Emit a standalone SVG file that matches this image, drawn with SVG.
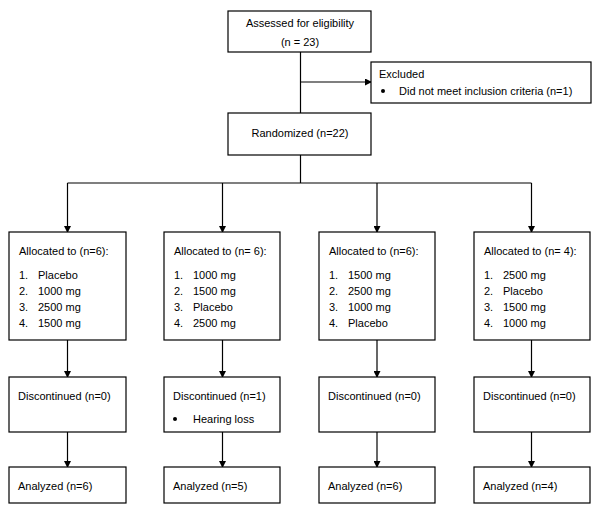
<svg xmlns="http://www.w3.org/2000/svg" width="600" height="513" viewBox="0 0 600 513">
<defs>
<style>
.box{fill:#fff;stroke:#000;stroke-width:1.2}
.t{font-family:"Liberation Sans",Arial,sans-serif;font-size:11px;fill:#000}
.c{text-anchor:middle}
.ln{fill:none;stroke:#000;stroke-width:1.2}
</style>
<marker id="ah" markerWidth="7" markerHeight="7" refX="6" refY="3.5" orient="auto" markerUnits="userSpaceOnUse">
<path d="M0,0 L7,3.5 L0,7 Z" fill="#000"/>
</marker>
</defs>
<rect width="600" height="513" fill="#fff"/>
<g id="connectors">
<line class="ln" x1="300.5" y1="52" x2="300.5" y2="113"/>
<line class="ln" x1="300.5" y1="82" x2="371" y2="82" marker-end="url(#ah)"/>
<line class="ln" x1="300.5" y1="155" x2="300.5" y2="183"/>
<line class="ln" x1="67.5" y1="183" x2="531.5" y2="183"/>
<line class="ln" x1="67.5" y1="183" x2="67.5" y2="232" marker-end="url(#ah)"/>
<line class="ln" x1="222.5" y1="183" x2="222.5" y2="232" marker-end="url(#ah)"/>
<line class="ln" x1="377" y1="183" x2="377" y2="232" marker-end="url(#ah)"/>
<line class="ln" x1="531.5" y1="183" x2="531.5" y2="232" marker-end="url(#ah)"/>
<line class="ln" x1="67.5" y1="340" x2="67.5" y2="377" marker-end="url(#ah)"/>
<line class="ln" x1="222.5" y1="340" x2="222.5" y2="377" marker-end="url(#ah)"/>
<line class="ln" x1="377" y1="340" x2="377" y2="377" marker-end="url(#ah)"/>
<line class="ln" x1="531.5" y1="340" x2="531.5" y2="377" marker-end="url(#ah)"/>
<line class="ln" x1="67.5" y1="432" x2="67.5" y2="467" marker-end="url(#ah)"/>
<line class="ln" x1="222.5" y1="432" x2="222.5" y2="467" marker-end="url(#ah)"/>
<line class="ln" x1="377" y1="432" x2="377" y2="467" marker-end="url(#ah)"/>
<line class="ln" x1="531.5" y1="432" x2="531.5" y2="467" marker-end="url(#ah)"/>
</g>
<g id="assessed">
<rect class="box" x="228" y="11" width="143" height="41"/>
<text class="t c" x="300" y="27">Assessed for eligibility</text>
<text class="t c" x="300" y="46">(n = 23)</text>
</g>
<g id="excluded">
<rect class="box" x="371" y="62" width="220" height="41"/>
<text class="t" x="379" y="78">Excluded</text>
<circle cx="383" cy="91" r="2"/>
<text class="t" x="399" y="95">Did not meet inclusion criteria (n=1)</text>
</g>
<g id="randomized">
<rect class="box" x="228" y="113" width="143" height="42"/>
<text class="t c" x="300" y="137">Randomized (n=22)</text>
</g>
<g id="alloc1">
<rect class="box" x="9" y="232" width="117" height="108"/>
<text class="t" x="19" y="255">Allocated to (n=6):</text>
<text class="t" x="19" y="279">1.</text><text class="t" x="38" y="279">Placebo</text>
<text class="t" x="19" y="295">2.</text><text class="t" x="38" y="295">1000 mg</text>
<text class="t" x="19" y="311">3.</text><text class="t" x="38" y="311">2500 mg</text>
<text class="t" x="19" y="327">4.</text><text class="t" x="38" y="327">1500 mg</text>
</g>
<g id="alloc2">
<rect class="box" x="164" y="232" width="116" height="108"/>
<text class="t" x="174" y="255">Allocated to (n= 6):</text>
<text class="t" x="174" y="279">1.</text><text class="t" x="193" y="279">1000 mg</text>
<text class="t" x="174" y="295">2.</text><text class="t" x="193" y="295">1500 mg</text>
<text class="t" x="174" y="311">3.</text><text class="t" x="193" y="311">Placebo</text>
<text class="t" x="174" y="327">4.</text><text class="t" x="193" y="327">2500 mg</text>
</g>
<g id="alloc3">
<rect class="box" x="319" y="232" width="116" height="108"/>
<text class="t" x="329" y="255">Allocated to (n=6):</text>
<text class="t" x="329" y="279">1.</text><text class="t" x="348" y="279">1500 mg</text>
<text class="t" x="329" y="295">2.</text><text class="t" x="348" y="295">2500 mg</text>
<text class="t" x="329" y="311">3.</text><text class="t" x="348" y="311">1000 mg</text>
<text class="t" x="329" y="327">4.</text><text class="t" x="348" y="327">Placebo</text>
</g>
<g id="alloc4">
<rect class="box" x="474" y="232" width="116" height="108"/>
<text class="t" x="484" y="255">Allocated to (n= 4):</text>
<text class="t" x="484" y="279">1.</text><text class="t" x="503" y="279">2500 mg</text>
<text class="t" x="484" y="295">2.</text><text class="t" x="503" y="295">Placebo</text>
<text class="t" x="484" y="311">3.</text><text class="t" x="503" y="311">1500 mg</text>
<text class="t" x="484" y="327">4.</text><text class="t" x="503" y="327">1000 mg</text>
</g>
<g id="disc1">
<rect class="box" x="9" y="377" width="117" height="55"/>
<text class="t" x="18" y="400">Discontinued (n=0)</text>
</g>
<g id="disc2">
<rect class="box" x="164" y="377" width="116" height="55"/>
<text class="t" x="173" y="400">Discontinued (n=1)</text>
<circle cx="175" cy="419" r="2"/>
<text class="t" x="193" y="423">Hearing loss</text>
</g>
<g id="disc3">
<rect class="box" x="319" y="377" width="116" height="55"/>
<text class="t" x="328" y="400">Discontinued (n=0)</text>
</g>
<g id="disc4">
<rect class="box" x="474" y="377" width="116" height="55"/>
<text class="t" x="483" y="400">Discontinued (n=0)</text>
</g>
<g id="anal1">
<rect class="box" x="9" y="467" width="117" height="36"/>
<text class="t" x="18" y="490">Analyzed (n=6)</text>
</g>
<g id="anal2">
<rect class="box" x="164" y="467" width="116" height="36"/>
<text class="t" x="173" y="490">Analyzed (n=5)</text>
</g>
<g id="anal3">
<rect class="box" x="319" y="467" width="116" height="36"/>
<text class="t" x="328" y="490">Analyzed (n=6)</text>
</g>
<g id="anal4">
<rect class="box" x="474" y="467" width="116" height="36"/>
<text class="t" x="483" y="490">Analyzed (n=4)</text>
</g>
</svg>
